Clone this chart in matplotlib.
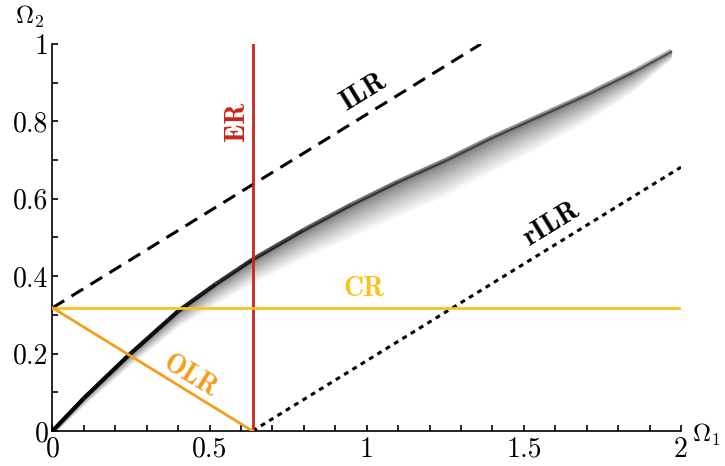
import numpy as np
import matplotlib
matplotlib.use("Agg")
from matplotlib import pyplot as plt
from matplotlib.ticker import MultipleLocator, FuncFormatter
from matplotlib.collections import LineCollection

plt.rcParams['font.family'] = ['cmr10', 'DejaVu Serif']
plt.rcParams['mathtext.fontset'] = 'cm'
plt.rcParams['axes.formatter.use_mathtext'] = True

# simulated point cloud, read as its dark upper edge plus the downward spread
cloud_x = [0.0, 0.1, 0.24, 0.4, 0.52, 0.64, 0.8, 0.95, 1.1, 1.25, 1.4, 1.55, 1.7, 1.85, 1.97]
cloud_y = [0.0, 0.085, 0.194, 0.31, 0.38, 0.445, 0.52, 0.585, 0.645, 0.70, 0.76, 0.815, 0.87, 0.93, 0.983]
cloud_spread = [0.008, 0.016, 0.026, 0.038, 0.048, 0.058, 0.07, 0.08, 0.086, 0.088, 0.085, 0.078, 0.066, 0.048, 0.018]
cloud_shade = [1.0, 1.0, 0.95, 0.9, 0.85, 0.75, 0.65, 0.58, 0.52, 0.48, 0.45, 0.42, 0.4, 0.36, 0.25]

# reference lines
ilr_x = [0.0, 1.3634]
ilr_y = [0.3183, 1.0]
rilr_x = [0.6366, 2.0]
rilr_y = [0.0, 0.6817]
er_x = [0.6366, 0.6366]
er_y = [0.0, 1.0]
cr_x = [0.0, 2.0]
cr_y = [0.3183, 0.3183]
olr_x = [0.0, 0.6366]
olr_y = [0.3183, 0.0]

RED = '#c9261c'
GOLD = '#f7c31d'
ORANGE = '#f49d1b'

fig = plt.figure(figsize=(7.25, 4.66), dpi=100)
ax = fig.add_axes([0.0724, 0.0751, 0.8669, 0.8305])

# cloud: stacked translucent bands, densest along the upper edge
cx = np.array(cloud_x)
cy = np.array(cloud_y)
cs = np.array(cloud_spread)
nlay = 18
for k in range(1, nlay + 1):
    f = (k / nlay) ** 1.8
    ax.fill_between(cx, cy - cs * f - 0.003, cy + 0.002,
                    color='k', alpha=0.04, lw=0, zorder=1)
pts = np.column_stack([cx, cy]).reshape(-1, 1, 2)
segs = np.concatenate([pts[:-1], pts[1:]], axis=1)
cols = [(0, 0, 0, 0.5 * (cloud_shade[i] + cloud_shade[i + 1])) for i in range(len(segs))]
ax.add_collection(LineCollection(segs, colors=cols, linewidths=3.0,
                                 capstyle='butt', zorder=2))

ax.plot(ilr_x, ilr_y, color='k', lw=2.2, dashes=(4.5, 2.8), zorder=3)
ax.plot(rilr_x, rilr_y, color='k', lw=2.2, dashes=(1.6, 1.6), zorder=3)
ax.plot(er_x, er_y, color=RED, lw=2.0, zorder=3)
ax.plot(cr_x, cr_y, color=GOLD, lw=2.0, zorder=3)
ax.plot(olr_x, olr_y, color=ORANGE, lw=2.0, zorder=3)

lab = dict(fontfamily='cmb10', fontsize=20, ha='center', va='center')
ax.text(0.587, 0.80, 'ER', color=RED, rotation=90, **lab)
ax.text(0.99, 0.875, 'ILR', color='k', rotation=31.5, **lab)
ax.text(1.59, 0.535, 'rILR', color='k', rotation=31.5, **lab)
ax.text(0.99, 0.366, 'CR', color=GOLD, **lab)
ax.text(0.437, 0.14, 'OLR', color=ORANGE, rotation=-31.5, **lab)

ax.set_xlim(0, 2)
ax.set_ylim(0, 1)
ax.spines['top'].set_visible(False)
ax.spines['right'].set_visible(False)
for s in ('left', 'bottom'):
    ax.spines[s].set_linewidth(1.2)

ax.xaxis.set_major_locator(MultipleLocator(0.5))
ax.xaxis.set_minor_locator(MultipleLocator(0.1))
ax.yaxis.set_major_locator(MultipleLocator(0.2))
ax.yaxis.set_minor_locator(MultipleLocator(0.1))
fmt = FuncFormatter(lambda v, p: '%g' % round(v, 3))
ax.xaxis.set_major_formatter(fmt)
ax.yaxis.set_major_formatter(fmt)
ax.tick_params(which='both', direction='in', length=4.5, width=1.2, labelsize=20)
ax.tick_params(axis='x', pad=4)
ax.tick_params(axis='y', pad=3)

ax.text(-0.036, 1.07, r'$\Omega_2$', transform=ax.transAxes, fontsize=18,
        ha='center', va='center')
ax.text(1.04, -0.01, r'$\Omega_1$', transform=ax.transAxes, fontsize=18,
        ha='center', va='center')

fig.savefig('out.png', dpi=100)
